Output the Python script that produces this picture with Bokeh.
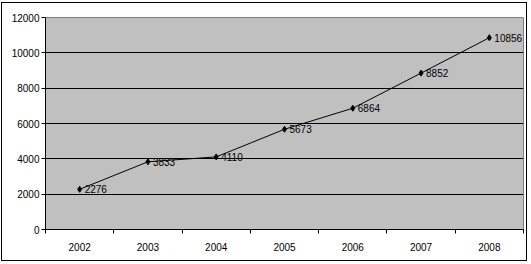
from bokeh.plotting import figure
from bokeh.models import FixedTicker, Range1d, Grid, ColumnDataSource, LabelSet
from bokeh.core.properties import value
from bokeh.embed import file_html
from bokeh.resources import INLINE

years = ["2002", "2003", "2004", "2005", "2006", "2007", "2008"]
values = [2276, 3833, 4110, 5673, 6864, 8852, 10856]
y_ticks = [0, 2000, 4000, 6000, 8000, 10000, 12000]

xs = [i + 0.5 for i in range(len(years))]
src = ColumnDataSource(dict(x=xs, y=values, lab=[str(v) for v in values]))

FONT = "Liberation Sans"

p = figure(width=526, height=259, output_backend="svg", toolbar_location=None,
           x_range=Range1d(0, len(years)), y_range=Range1d(0, 12000),
           min_border_left=43, min_border_right=5, min_border_top=14, min_border_bottom=33,
           background_fill_color="#C0C0C0", border_fill_color="white",
           outline_line_color="#808080", outline_line_width=1,
           styles={"border": "1px solid black", "margin": "2px 0 0 1px"})

p.xgrid.visible = False
p.ygrid.visible = False
p.add_layout(Grid(dimension=1, ticker=FixedTicker(ticks=y_ticks[1:-1]),
                  grid_line_color="black", grid_line_width=1))

p.xaxis.ticker = FixedTicker(ticks=xs, minor_ticks=list(range(len(years) + 1)))
p.xaxis.major_label_overrides = {x: y for x, y in zip(xs, years)}
p.xaxis.major_tick_line_color = None
p.xaxis.minor_tick_in = 0
p.xaxis.minor_tick_out = 4
p.xaxis.minor_tick_line_color = "black"
p.xaxis.major_label_standoff = 7

p.yaxis.ticker = FixedTicker(ticks=y_ticks)
p.yaxis.minor_tick_line_color = None
p.yaxis.major_tick_in = 0
p.yaxis.major_tick_out = 4
p.yaxis.major_label_standoff = 2

for ax in (p.xaxis[0], p.yaxis[0]):
    ax.axis_line_color = "black"
    ax.major_label_text_font = FONT
    ax.major_label_text_font_size = "10px"
    ax.major_label_text_color = "black"

p.line("x", "y", source=src, line_color="black", line_width=1)
p.scatter("x", "y", source=src, marker="diamond", size=6, color="black")
p.add_layout(LabelSet(x="x", y="y", text="lab", source=src, x_offset=5,
                      text_baseline="middle", text_font=value(FONT),
                      text_font_size="10px", text_color="black"))

open("out.html", "w").write(file_html(p, INLINE))
